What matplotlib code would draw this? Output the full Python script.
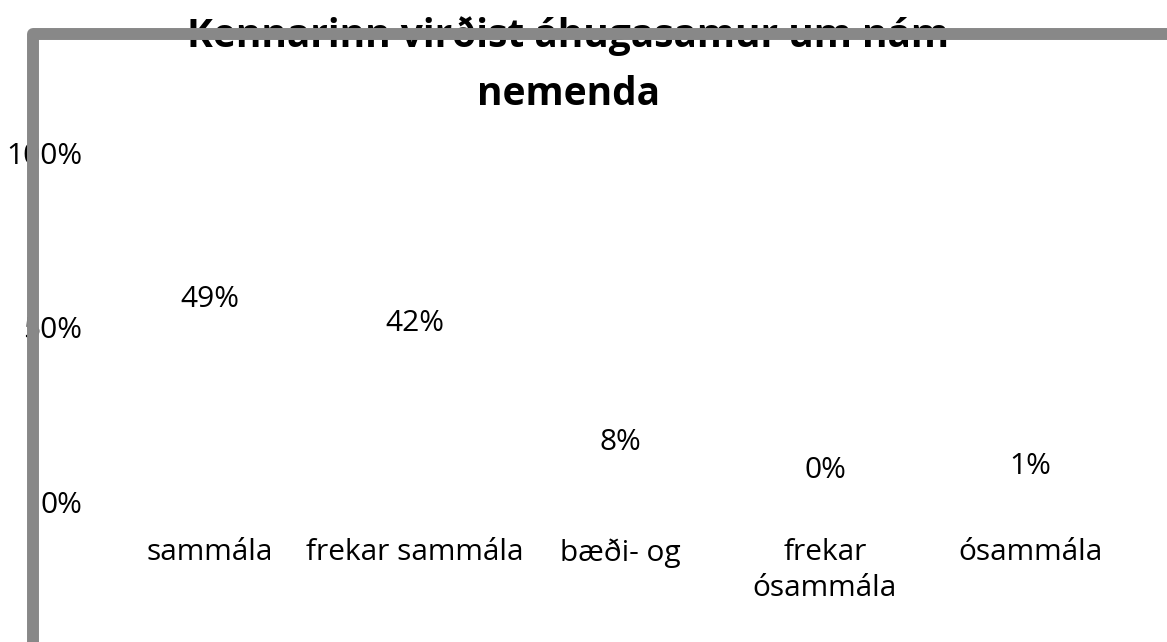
import matplotlib.pyplot as plt
from matplotlib.lines import Line2D

plt.rcParams['font.family'] = ['Open Sans', 'DejaVu Sans']

categories = ['sammála', 'frekar sammála', 'bæði- og', 'frekar\nósammála', 'ósammála']
values = [0.49, 0.42, 0.08, 0.00, 0.01]
value_labels = ['49%', '42%', '8%', '0%', '1%']
y_ticks = [0.0, 0.5, 1.0]
y_tick_labels = ['0%', '50%', '100%']
title = 'Kennarinn virðist áhugasamur um nám\nnemenda'

W, H = 1167, 642
fig = plt.figure(figsize=(W / 100, H / 100), dpi=100)
ax = fig.add_axes([107.5 / W, 1 - 502 / H, 1025 / W, 349 / H])

x = range(len(categories))
# bars have no fill in the original, only the labels show
ax.bar(x, values, width=0.6, color='none', edgecolor='none')
for xi, v, lab in zip(x, values, value_labels):
    ax.annotate(lab, (xi, v), xytext=(0, 23), textcoords='offset points',
                ha='center', va='center', fontsize=21.5)

ax.set_xlim(-0.5, len(categories) - 0.5)
ax.set_ylim(0, 1)
ax.set_yticks(y_ticks)
ax.set_yticklabels(y_tick_labels, fontsize=21.5)
ax.set_xticks(list(x))
ax.set_xticklabels(categories, fontsize=21.5, linespacing=1.3)
ax.tick_params(axis='y', length=0, pad=18)
ax.tick_params(axis='x', length=0, pad=26)
for s in ax.spines.values():
    s.set_visible(False)

fig.text(568 / W, 1 - 65 / H, title, ha='center', va='center',
         fontsize=28, fontweight='bold', linespacing=1.65)

# grey frame drawn over the title and tick labels
frame = Line2D([33 / W, 33 / W, 1.02], [-0.02, 1 - 34 / H, 1 - 34 / H],
               transform=fig.transFigure, color='#888888', lw=8.6,
               solid_joinstyle='round', zorder=10)
fig.add_artist(frame)

fig.savefig('out.png', dpi=100)
